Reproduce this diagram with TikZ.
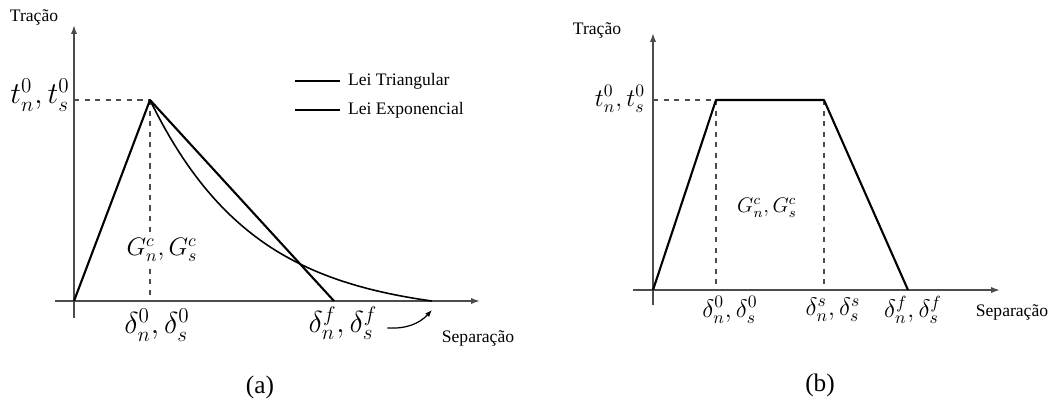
\documentclass[tikz,border=0pt]{standalone}
\usepackage{fontspec}
\setmainfont{Liberation Serif}
\usetikzlibrary{arrows.meta}

\begin{document}
\begin{tikzpicture}[x=0.02cm, y=-0.02cm,
        axis/.style={draw=black!70, line width=0.9pt, -{Latex[length=5pt,width=3.5pt]}},
        curve/.style={draw=black, line width=1.2pt, line join=round},
        guide/.style={draw=black!70, line width=0.7pt, dashed},
        lbl/.style={inner sep=1pt}]
    \useasboundingbox (0,0) rectangle (1059,403);

    % (a) leis triangular e exponencial
    \coordinate (Oa) at (74,301);
    \coordinate (yTopA) at (74,25);
    \coordinate (yBotA) at (74,318);
    \coordinate (xLeftA) at (55,301);
    \coordinate (xRightA) at (480,301);
    \coordinate (peakA) at (150,100);
    \coordinate (tA) at (74,100);
    \coordinate (dA) at (150,301);
    \coordinate (triEndA) at (334,301);
    \coordinate (expEndA) at (432,301);
    \coordinate (arrEndA) at (432,310);

    \draw[axis] (yBotA) -- (yTopA);
    \draw[axis] (xLeftA) -- (xRightA);
    \draw[guide] (tA) -- (peakA);
    \draw[guide] (peakA) -- (dA);
    \draw[curve] (Oa) -- (peakA) -- (triEndA);
    \draw[curve, line width=0.9pt] plot[domain=150:432, samples=70]
        (\x, {301 - 201*(exp(-0.0095*(\x-150)) - 0.0686)/0.9314});

    \node[lbl] (tracaoA) at (34,17) {Tração};
    \node[lbl] (tLabA) at (40,95) {\LARGE $t_n^0,t_s^0$};
    \node[lbl, fill=white] (gLabA) at (162,250) {\Large $G_n^c,G_s^c$};
    \node[lbl] (d0LabA) at (157,325) {\LARGE $\delta_n^0,\delta_s^0$};
    \node[lbl] (dfLabA) at (343,323) {\LARGE $\delta_n^f,\delta_s^f$};
    \node[lbl] (sepA) at (478,338) {Separação};
    \node[lbl] (capA) at (260,387) {\Large (a)};
    \draw[line width=0.7pt, -{Latex[length=4pt,width=3pt]}] (dfLabA.east) ++(8,5)
        to[bend right=25] (arrEndA);

    % legenda
    \coordinate (leg1a) at (295,81);
    \coordinate (leg1b) at (340,81);
    \coordinate (leg2a) at (295,110);
    \coordinate (leg2b) at (340,110);
    \draw[curve] (leg1a) -- (leg1b);
    \draw[curve, line width=1pt] (leg2a) -- (leg2b);
    \node[lbl, anchor=west] (legTri) at (346,81) {Lei Triangular};
    \node[lbl, anchor=west] (legExp) at (346,110) {Lei Exponencial};

    % (b) lei trapezoidal
    \coordinate (Ob) at (653,290);
    \coordinate (yTopB) at (653,33);
    \coordinate (yBotB) at (653,305);
    \coordinate (xLeftB) at (633,290);
    \coordinate (xRightB) at (1000,290);
    \coordinate (p1B) at (716,100);
    \coordinate (p2B) at (824,100);
    \coordinate (tB) at (653,100);
    \coordinate (d0B) at (716,290);
    \coordinate (dsB) at (824,290);
    \coordinate (endB) at (908,290);

    \draw[axis] (yBotB) -- (yTopB);
    \draw[axis] (xLeftB) -- (xRightB);
    \draw[guide] (tB) -- (p1B);
    \draw[guide] (p1B) -- (d0B);
    \draw[guide] (p2B) -- (dsB);
    \draw[curve] (Ob) -- (p1B) -- (p2B) -- (endB);

    \node[lbl] (tracaoB) at (597,30) {Tração};
    \node[lbl] (tLabB) at (620,99) {\Large $t_n^0,t_s^0$};
    \node[lbl] (gLabB) at (767,208) {\large $G_n^c,G_s^c$};
    \node[lbl] (d0LabB) at (730,310) {\Large $\delta_n^0,\delta_s^0$};
    \node[lbl] (dsLabB) at (833,310) {\Large $\delta_n^s,\delta_s^s$};
    \node[lbl] (dfLabB) at (913,310) {\Large $\delta_n^f,\delta_s^f$};
    \node[lbl] (sepB) at (1012,312) {Separação};
    \node[lbl] (capB) at (820,385) {\Large (b)};
\end{tikzpicture}
\end{document}
